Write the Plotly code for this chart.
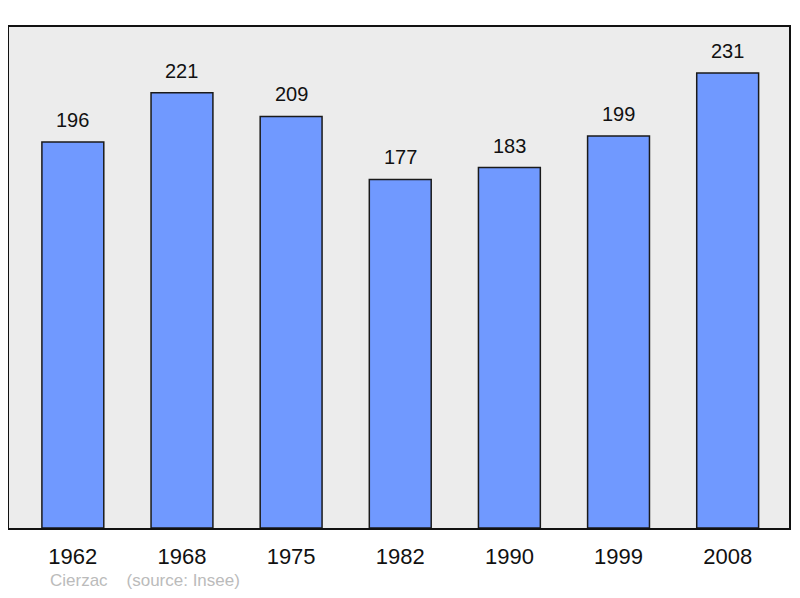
import plotly.graph_objects as go

years = ["1962", "1968", "1975", "1982", "1990", "1999", "2008"]
population = [196, 221, 209, 177, 183, 199, 231]

fig = go.Figure()
fig.add_trace(go.Bar(
    x=years, y=population, width=0.567,
    marker=dict(color="#7099ff", line=dict(color="#1a1a1a", width=1.5)),
    hoverinfo="skip",
))
for i, v in enumerate(population):
    fig.add_annotation(x=i, y=v, text=str(v), showarrow=False, yanchor="middle",
                       yshift=22, font=dict(size=20, color="#111", family="Liberation Sans"))

fig.add_annotation(xref="paper", yref="paper", x=0.05, y=-0.105, xanchor="left", yanchor="middle",
                   text="Cierzac&nbsp;&nbsp;&nbsp;&nbsp;(source: Insee)", showarrow=False,
                   font=dict(size=17, color="#bbbbbb", family="Liberation Sans"))

fig.update_layout(
    width=784, height=582,
    margin=dict(l=1, r=1, t=19, b=62),
    paper_bgcolor="white", plot_bgcolor="#ececec",
    showlegend=False,
    xaxis=dict(type="category", range=[-0.585, 6.562], showline=True, mirror=True,
               linecolor="#111", linewidth=2, showgrid=False, ticks="outside",
               ticklen=8, tickcolor="rgba(0,0,0,0)",
               tickfont=dict(size=22, color="#111", family="Liberation Sans")),
    yaxis=dict(range=[0, 254.4], showline=True, mirror=True, linecolor="#111", linewidth=2,
               showgrid=False, showticklabels=False, zeroline=False, ticks=""),
)
fig.write_html("out.html")
